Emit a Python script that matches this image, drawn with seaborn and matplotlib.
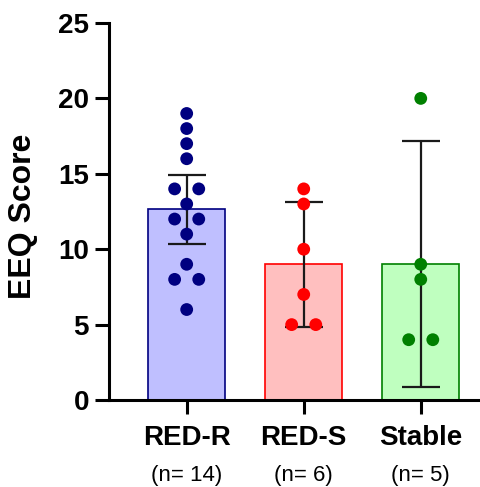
import numpy as np
import pandas as pd
import matplotlib
matplotlib.use("Agg")
import matplotlib.pyplot as plt
import matplotlib.transforms as mtransforms
import seaborn as sns

# ---- data ----
groups = ["RED-R", "RED-S", "Stable"]
n_labels = ["(n= 14)", "(n= 6)", "(n= 5)"]
red_r = [19, 18, 17, 16, 14, 14, 13, 12, 12, 11, 9, 8, 8, 6]
red_s = [14, 13, 10, 7, 5, 5]
stable = [20, 9, 8, 4, 4]
fill_colors = ["#BFBFFF", "#FFBFBF", "#BFFFBF"]
edge_colors = ["#000080", "#FF0000", "#008000"]
y_ticks = [0, 5, 10, 15, 20, 25]

values = [red_r, red_s, stable]
df = pd.DataFrame({
    "group": np.repeat(groups, [len(v) for v in values]),
    "score": np.concatenate(values),
})

# t critical values (95%, two-sided)
try:
    from scipy import stats
    def tcrit(dof):
        return stats.t.ppf(0.975, dof)
except Exception:
    _t = {1: 12.706, 2: 4.303, 3: 3.182, 4: 2.776, 5: 2.571, 6: 2.447, 7: 2.365,
          8: 2.306, 9: 2.262, 10: 2.228, 11: 2.201, 12: 2.179, 13: 2.160, 14: 2.145}
    def tcrit(dof):
        return _t[dof]

plt.rcParams["font.family"] = ["Liberation Sans", "DejaVu Sans"]
fig = plt.figure(figsize=(4.81, 4.87), dpi=100)
ax = fig.add_axes([0.2256, 0.1786, 0.80, 0.7742])

sns.barplot(data=df, x="group", y="score", hue="group", order=groups,
            hue_order=groups, palette=fill_colors, errorbar=None, width=0.655,
            saturation=1, legend=False, ax=ax, zorder=1)
for patch, ec in zip(ax.patches, edge_colors):
    patch.set_edgecolor(ec)
    patch.set_linewidth(1.2)

# error bars: mean +/- 95% CI
for i, v in enumerate(values):
    arr = np.asarray(v, float)
    m = arr.mean()
    ci = tcrit(len(arr) - 1) * arr.std(ddof=1) / np.sqrt(len(arr))
    ax.errorbar(i, m, yerr=ci, fmt="none", ecolor="#1a1a1a", elinewidth=1.6,
                capsize=13.5, capthick=1.6, zorder=3)

# points: duplicates split symmetrically
xs, ys, cs = [], [], []
for i, v in enumerate(values):
    arr = np.asarray(v, float)
    for val in np.unique(arr):
        k = int((arr == val).sum())
        for j in range(k):
            xs.append(i + (j - (k - 1) / 2) * 0.206)
            ys.append(val)
            cs.append(edge_colors[i])
ax.scatter(xs, ys, s=85, c=cs, linewidths=0, zorder=4)

ax.set_xlim(-0.668, 2.62)
ax.set_ylim(0, 25)
ax.set_yticks(y_ticks)
ax.set_xlabel("")
ax.set_ylabel("")
for s in ["top", "right"]:
    ax.spines[s].set_visible(False)
for s in ["left", "bottom"]:
    ax.spines[s].set_linewidth(2.2)
    ax.spines[s].set_color("black")
ax.tick_params(axis="both", length=10, width=2.2, color="black")
ax.tick_params(axis="y", labelsize=20, pad=4)
ax.tick_params(axis="x", labelsize=20, pad=8)
for lab in ax.get_xticklabels() + ax.get_yticklabels():
    lab.set_fontweight("bold")

fig.text(23.5 / 481, 1 - 216 / 487, "EEQ Score", rotation=90, ha="center",
         va="center", fontsize=23, fontweight="bold")

trans = mtransforms.blended_transform_factory(ax.transData, fig.transFigure)
for i, t in enumerate(n_labels):
    ax.text(i, 1 - 475 / 487, t, transform=trans, ha="center", va="center",
            fontsize=16)

fig.savefig("out.png", dpi=100)
